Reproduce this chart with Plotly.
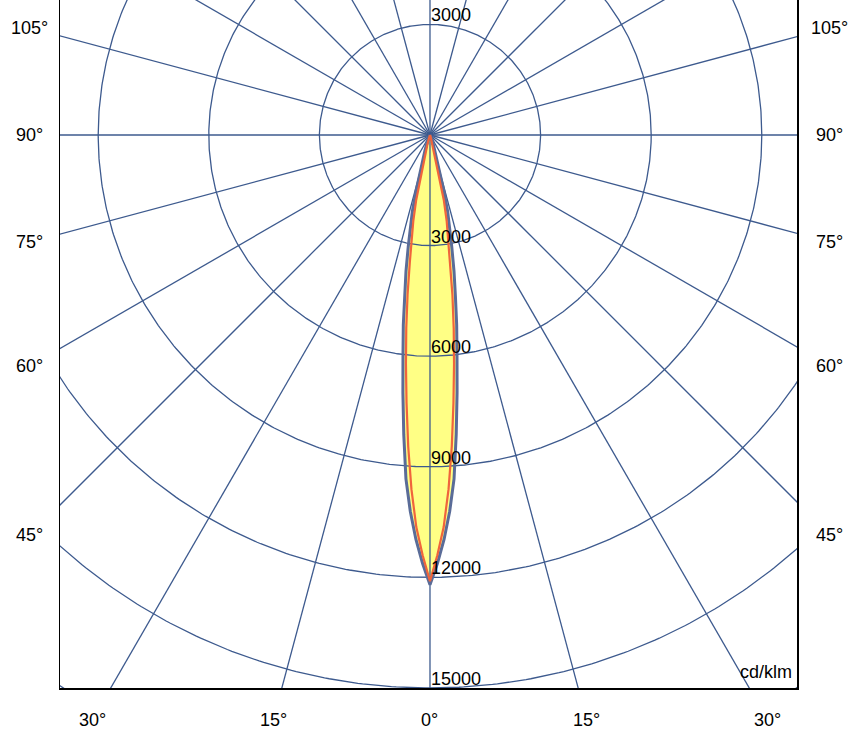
import numpy as np
import plotly.graph_objects as go

# ---------------- data (cd/klm) ----------------
angles_deg = [0, 1, 2, 3, 4, 5, 6, 7, 8, 9, 10, 11, 12, 13, 14, 15, 16, 18, 20, 22, 25, 30, 35, 40, 50, 60, 70, 80, 90]
c0_c180 = [12200, 11620, 10970, 10220, 9350, 8160, 7030, 6010, 5200, 4400, 3750, 3100, 2580, 2130, 1550, 1000, 700, 450, 300, 200, 100, 40, 0, 0, 0, 0, 0, 0, 0]
c90_c270 = [12100, 11400, 10640, 9620, 8470, 7300, 6240, 5280, 4370, 3500, 2850, 2370, 1800, 800, 450, 300, 200, 100, 50, 20, 0, 0, 0, 0, 0, 0, 0, 0, 0]

ring_values = [3000, 6000, 9000, 12000, 15000, 18000]
ring_labels = ["3000", "6000", "9000", "12000", "15000"]
side_angle_labels = [45, 60, 75, 90, 105]
bottom_angle_labels = [0, 15, 30]
unit_label = "cd/klm"

# ---------------- geometry ----------------
X0, X1 = -10036, 9955
Y0, Y1 = -15000, 3662

GRID = "#3d5a8e"
OUTER = "#5a6c98"
INNER = "#f0643c"
FILL = "#ffff85"
FONT = dict(family="Arial, Liberation Sans, sans-serif", size=18, color="black")


def beam_xy(vals):
    a = np.array(angles_deg, dtype=float)
    v = np.array(vals, dtype=float)
    ang = np.concatenate([-a[::-1], a[1:]])
    val = np.concatenate([v[::-1], v[1:]])
    r = np.radians(ang)
    return val * np.sin(r), -val * np.cos(r)


fig = go.Figure()

# yellow fill of the outer curve
xo, yo = beam_xy(c0_c180)
fig.add_trace(go.Scatter(x=xo, y=yo, mode="lines", fill="toself", fillcolor=FILL,
                         line=dict(width=0), hoverinfo="skip", showlegend=False))

# grid circles
gx, gy = [], []
t = np.linspace(0, 2 * np.pi, 721)
for rv in ring_values:
    gx += list(rv * np.cos(t)) + [None]
    gy += list(rv * np.sin(t)) + [None]
# radial lines every 15 degrees
for k in range(0, 24):
    th = np.radians(k * 15)
    gx += [0, 30000 * np.sin(th), None]
    gy += [0, -30000 * np.cos(th), None]
fig.add_trace(go.Scatter(x=gx, y=gy, mode="lines", line=dict(color=GRID, width=1.3),
                         hoverinfo="skip", showlegend=False))

# curves
fig.add_trace(go.Scatter(x=xo, y=yo, mode="lines", line=dict(color=OUTER, width=3),
                         hoverinfo="skip", showlegend=False))
xi, yi = beam_xy(c90_c270)
fig.add_trace(go.Scatter(x=xi, y=yi, mode="lines", line=dict(color=INNER, width=2.2),
                         hoverinfo="skip", showlegend=False))


def px(xd):
    return (xd - X0) / (X1 - X0)


def py(yd):
    return (yd - Y0) / (Y1 - Y0)


ann = []
# ring labels (bottom half) and top 3000
for rv, lab in zip(ring_values, ring_labels):
    ann.append(dict(x=0, y=-rv, xref="x", yref="y", text=lab, showarrow=False,
                    xanchor="left", yanchor="bottom", xshift=-1, yshift=-3, font=FONT))
ann.append(dict(x=0, y=3000, xref="x", yref="y", text=ring_labels[0], showarrow=False,
                xanchor="left", yanchor="bottom", xshift=-1, yshift=-3, font=FONT))

# side angle labels
SIDE = 10850
for a in side_angle_labels:
    yd = -SIDE / np.tan(np.radians(a)) if a != 90 else 0.0
    for sgn in (-1, 1):
        ann.append(dict(x=px(sgn * SIDE), y=py(yd), xref="paper", yref="paper",
                        text=f"{a}°", showarrow=False, xanchor="center", yanchor="middle",
                        font=FONT))
# bottom angle labels
BOT = 15870
for a in bottom_angle_labels:
    xs = BOT * np.tan(np.radians(a))
    for sgn in ((-1, 1) if a != 0 else (1,)):
        ann.append(dict(x=px(sgn * xs), y=py(-BOT), xref="paper", yref="paper",
                        text=f"{a}°", showarrow=False, xanchor="center", yanchor="middle",
                        font=FONT))
# unit
ann.append(dict(x=1, y=0, xref="paper", yref="paper", text=unit_label, showarrow=False,
                xanchor="right", yanchor="bottom", xshift=-3, yshift=4, font=FONT))

fig.update_layout(
    width=852, height=744,
    margin=dict(l=60, r=55, t=0, b=56),
    paper_bgcolor="white", plot_bgcolor="white",
    showlegend=False,
    annotations=ann,
    xaxis=dict(range=[X0, X1], showgrid=False, zeroline=False, showticklabels=False,
               ticks="", showline=True, linecolor="black", linewidth=1.5, mirror=False,
               fixedrange=True),
    yaxis=dict(range=[Y0, Y1], showgrid=False, zeroline=False, showticklabels=False,
               ticks="", showline=True, linecolor="black", linewidth=1.5, mirror=True,
               fixedrange=True),
)

fig.write_html("out.html", config={"displayModeBar": False, "staticPlot": True},
               post_script="document.body.style.margin='0';document.body.style.overflow='hidden';")
